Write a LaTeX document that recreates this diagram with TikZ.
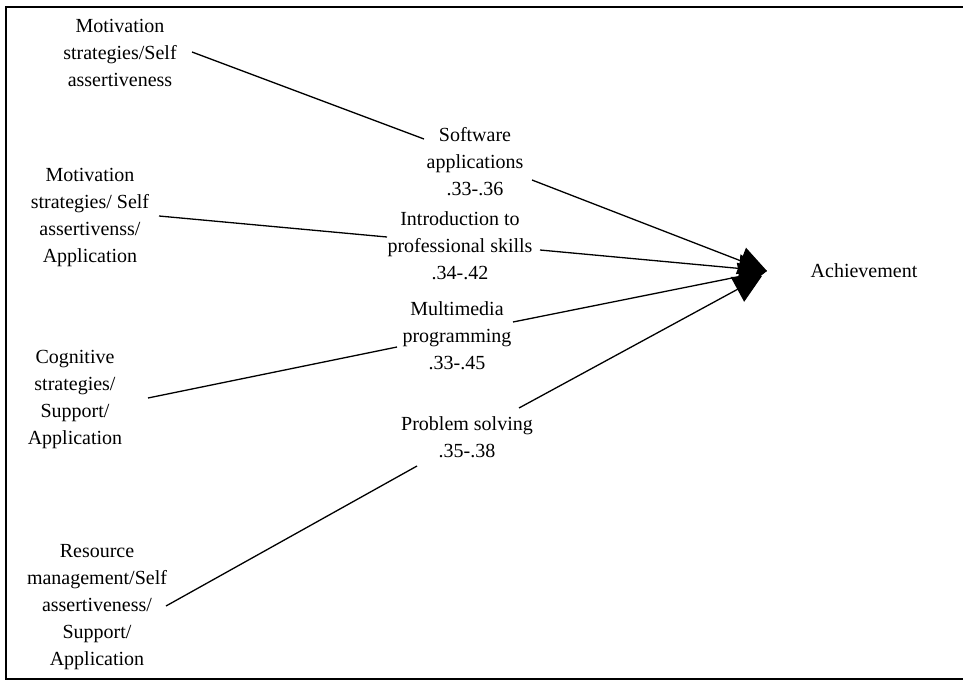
\documentclass[tikz,border=0pt]{standalone}
\usepackage{fontspec}
\setmainfont{Liberation Serif}
\usetikzlibrary{arrows.meta}
\begin{document}
\begin{tikzpicture}[x=1pt,y=-1pt,
  lbl/.style={align=center,inner sep=0pt,font=\fontsize{20}{27}\selectfont},
  link/.style={line width=1.3pt},
  arr/.style={line width=1.3pt,-{Triangle[length=28pt,width=28pt]}}]
\useasboundingbox (0,0) rectangle (963,680);
\draw[line width=2pt] (970,7) -- (6,7) -- (6,679) -- (970,679);
% sources
\node[lbl] (m1) at (120,53) {Motivation\\strategies/Self\\assertiveness};
\node[lbl] (m2) at (90,218) {Motivation\\strategies/ Self\\assertivenss/\\Application};
\node[lbl] (cg) at (75,400) {Cognitive\\strategies/\\Support/\\Application};
\node[lbl] (rm) at (97,607) {Resource\\management/Self\\assertiveness/\\Support/\\Application};
% mediators
\node[lbl] (sw) at (475,162) {Software\\applications\\.33-.36};
\node[lbl] (ip) at (460,246) {Introduction to\\professional skills\\.34-.42};
\node[lbl] (mm) at (457,336) {Multimedia\\programming\\.33-.45};
\node[lbl] (ps) at (467,437) {Problem solving\\.35-.38};
\node[lbl] (ach) at (864,271) {Achievement};
% connector endpoints
\coordinate (m1o) at (192,52);
\coordinate (swi) at (424,139);
\coordinate (m2o) at (159,216);
\coordinate (ipi) at (387,237);
\coordinate (cgo) at (148,398);
\coordinate (mmi) at (397,347);
\coordinate (rmo) at (166,606);
\coordinate (psi) at (417,466);
\coordinate (swo) at (532,180);
\coordinate (ipo) at (540,250);
\coordinate (mmo) at (513,322);
\coordinate (pso) at (519,408);
\coordinate (tip) at (767,271);
\coordinate (tip2) at (762,276);
\draw[link] (m1o) -- (swi);
\draw[link] (m2o) -- (ipi);
\draw[link] (cgo) -- (mmi);
\draw[link] (rmo) -- (psi);
\draw[arr] (swo) -- (tip);
\draw[arr] (ipo) -- (tip);
\draw[arr] (mmo) -- (tip);
\draw[arr] (pso) -- (tip2);
\end{tikzpicture}
\end{document}
